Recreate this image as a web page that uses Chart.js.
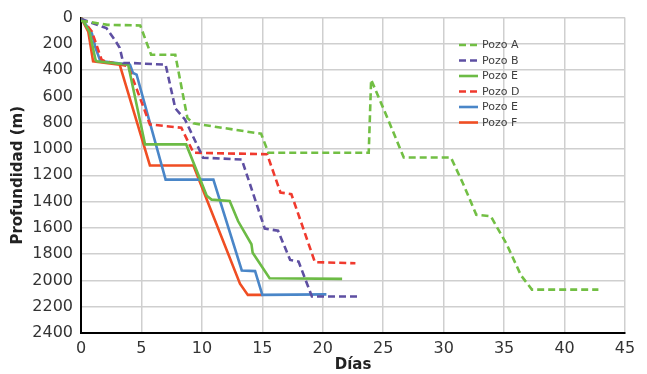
<!DOCTYPE html>
<html><head><meta charset="utf-8">
<script src="https://cdn.jsdelivr.net/npm/chart.js@4/dist/chart.umd.min.js"></script>
<style>html,body{margin:0;padding:0;background:#fff}#wrap{width:647px;height:374px;position:relative}</style>
</head><body><div id="wrap"><canvas id="c" width="647" height="374"></canvas></div>
<script>
const seriesNames = ["Pozo A","Pozo B","Pozo E","Pozo D","Pozo E","Pozo F"];
const pozoA_dias = [0,0.8,2.2,4.9,5.8,7.8,8.8,9.3,14.9,15.5,23.8,24.0,25.4,26.7,30.6,31.6,32.7,33.9,35.2,36.4,37.3,42.8];
const pozoA_prof = [25,35,55,60,283,283,763,805,884,1028,1028,472,775,1065,1065,1262,1500,1512,1722,1962,2070,2070];
const pozoB_dias = [0,2.1,2.8,3.2,3.5,4.0,7.0,7.8,8.6,10.1,13.3,15.2,16.3,17.3,18.0,19.1,23.1];
const pozoB_prof = [10,80,170,230,345,345,358,690,775,1066,1080,1605,1622,1844,1857,2122,2122];
const pozoE1_dias = [0,0.7,1.2,1.3,3.9,5.3,8.7,10.4,10.8,12.3,13.0,14.1,14.2,15.6,21.6];
const pozoE1_prof = [0,106,320,333,358,965,965,1356,1385,1395,1550,1725,1790,1983,1988];
const pozoD_dias = [0,0.9,1.7,2.0,3.9,5.7,8.3,9.3,15.4,16.5,17.4,19.35,22.7];
const pozoD_prof = [0,106,320,333,370,813,838,1028,1040,1331,1343,1861,1869];
const pozoE2_dias = [0,0.9,1.2,1.6,4.05,4.3,4.6,7.0,10.95,13.3,14.4,15.0,20.3];
const pozoE2_prof = [0,119,230,330,358,422,434,1233,1233,1924,1929,2110,2106];
const pozoF_dias = [0,0.6,1.0,3.2,5.7,9.3,10.5,13.15,13.8,15.0];
const pozoF_prof = [0,106,333,358,1125,1125,1407,2025,2110,2110];
const yTicks = [0,200,400,600,800,1000,1200,1400,1600,1800,2000,2200,2400];
const xTicks = [0,5,10,15,20,25,30,35,40,45];

const pts = (xs, ys) => xs.map((x,i)=>({x:x, y:ys[i]}));
const styles = [
  {color:'#72BF44', dash:[7,4]},
  {color:'#5E4FA2', dash:[7,4]},
  {color:'#6CBB45', dash:[]},
  {color:'#F03A2E', dash:[7,4]},
  {color:'#4A86C8', dash:[]},
  {color:'#F04E23', dash:[]}
];
const allData = [
  pts(pozoA_dias,pozoA_prof), pts(pozoB_dias,pozoB_prof), pts(pozoE1_dias,pozoE1_prof),
  pts(pozoD_dias,pozoD_prof), pts(pozoE2_dias,pozoE2_prof), pts(pozoF_dias,pozoF_prof)
];
const datasets = allData.map((d,i)=>({
  label: seriesNames[i], data: d, borderColor: styles[i].color, backgroundColor: styles[i].color,
  borderDash: styles[i].dash, borderWidth: 2.6, pointRadius: 0, tension: 0, fill: false
}));
const legendPlugin = {
  id: 'inLegend',
  afterDraw(chart, args, opts) {
    const ctx = chart.ctx;
    ctx.save();
    chart.data.datasets.forEach((ds,i)=>{
      const y = opts.y + i*opts.step;
      ctx.beginPath();
      ctx.setLineDash(ds.borderDash || []);
      ctx.strokeStyle = ds.borderColor;
      ctx.lineWidth = 2.6;
      ctx.moveTo(opts.x, y); ctx.lineTo(opts.x + opts.len, y);
      ctx.stroke();
      ctx.setLineDash([]);
      ctx.fillStyle = '#404040';
      ctx.font = '11px "DejaVu Sans"';
      ctx.textBaseline = 'middle';
      ctx.textAlign = 'left';
      ctx.fillText(ds.label, opts.x + opts.len + 4, y + 0.5);
    });
    ctx.restore();
  }
};
new Chart(document.getElementById('c'), {
  type: 'line',
  data: { datasets: datasets },
  plugins: [legendPlugin],
  options: {
    responsive: false, animation: false,
    layout: { padding: { top: 16, right: 22, left: 0, bottom: 0 } },
    plugins: { legend: { display: false }, tooltip: { enabled: false },
      inLegend: { x: 459, y: 45, step: 15.5, len: 19 } },
    scales: {
      x: { type: 'linear', min: 0, max: 45,
        afterBuildTicks(s){ s.ticks = xTicks.map(v=>({value:v})); },
        afterFit(s){ s.height = 41; },
        grid: { color: '#cfcfcf', lineWidth: 1.5, drawTicks: false },
        border: { color: '#000', width: 2 },
        ticks: { color: '#333', font: { family: 'DejaVu Sans', size: 16 }, padding: 6, maxRotation: 0,
          callback: v => String(v) },
        title: { display: true, text: 'Días', color: '#222', font: { family: 'DejaVu Sans', size: 15, weight: 'bold' }, padding: { top: 0, bottom: 0 } }
      },
      y: { type: 'linear', min: 0, max: 2400, reverse: true,
        afterBuildTicks(s){ s.ticks = yTicks.map(v=>({value:v})); },
        afterFit(s){ s.width = 81; },
        grid: { color: '#cfcfcf', lineWidth: 1.5, drawTicks: false },
        border: { color: '#000', width: 2 },
        ticks: { color: '#333', font: { family: 'DejaVu Sans', size: 16 }, padding: 8,
          callback: v => String(v) },
        title: { display: true, text: 'Profundidad (m)', color: '#222', font: { family: 'DejaVu Sans', size: 15, weight: 'bold' }, padding: { top: 9, bottom: 0 } }
      }
    }
  }
});
</script></body></html>
